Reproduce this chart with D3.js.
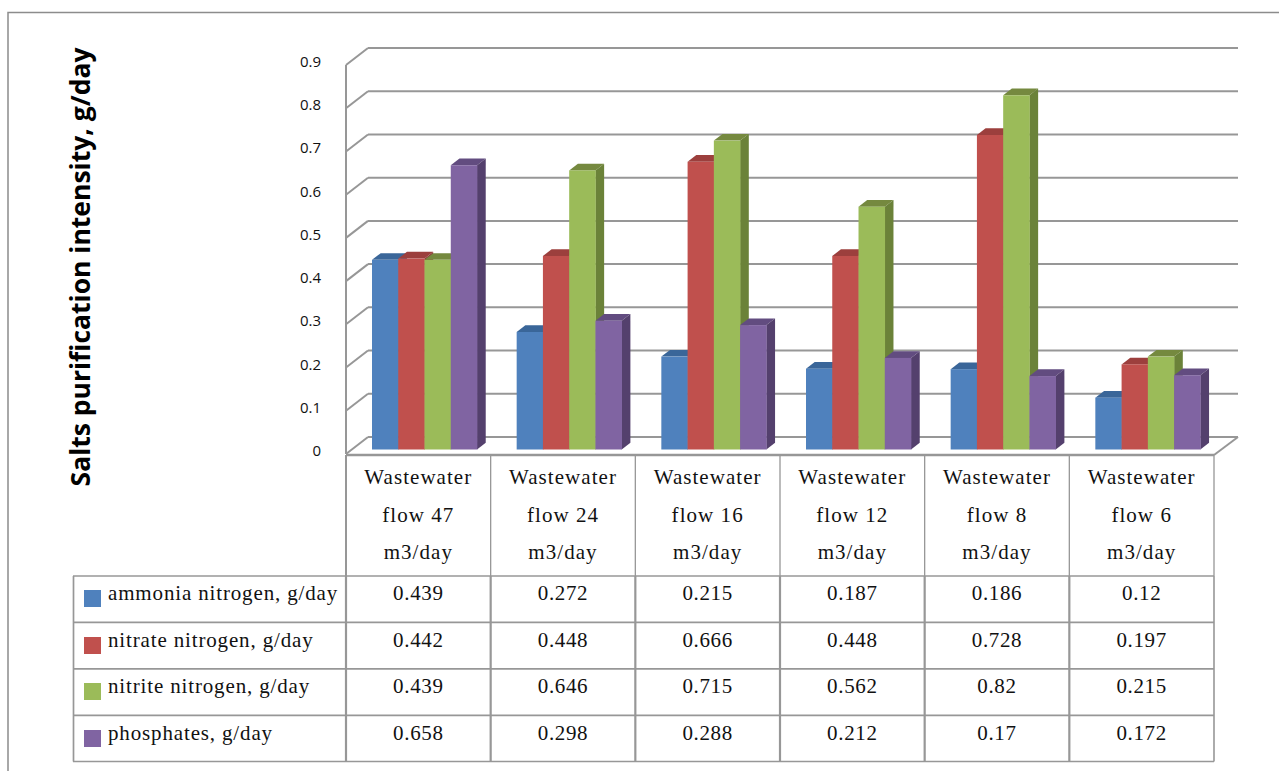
<!DOCTYPE html>
<html><head><meta charset="utf-8">
<script src="https://cdn.jsdelivr.net/npm/d3@7/dist/d3.min.js"></script>
<style>html,body{margin:0;background:#fff;overflow:hidden}svg{display:block}</style>
</head><body><svg id="c" width="1279" height="771"></svg>
<script>
const categories = [["Wastewater","flow 47","m3/day"],["Wastewater","flow 24","m3/day"],["Wastewater","flow 16","m3/day"],["Wastewater","flow 12","m3/day"],["Wastewater","flow 8","m3/day"],["Wastewater","flow 6","m3/day"]];
const seriesNames = ["ammonia nitrogen, g/day","nitrate nitrogen, g/day","nitrite nitrogen, g/day","phosphates, g/day"];
const ammonia = ["0.439","0.272","0.215","0.187","0.186","0.12"];
const nitrate = ["0.442","0.448","0.666","0.448","0.728","0.197"];
const nitrite = ["0.439","0.646","0.715","0.562","0.82","0.215"];
const phosphates = ["0.658","0.298","0.288","0.212","0.17","0.172"];
const allSeries = [ammonia, nitrate, nitrite, phosphates];
const front = ["#4f81bd","#c0504d","#9bbb59","#8064a2"];
const side = ["#3a5f8c","#8e3b39","#6b8239","#54406d"];
const topc = ["#3a6699","#9c3f3d","#75893f","#624c80"];
const ticks = [0,0.1,0.2,0.3,0.4,0.5,0.6,0.7,0.8,0.9];
const svg = d3.select("#c");
const GRID="#979797", SERIF="'Liberation Serif','DejaVu Serif',serif", SANS="'Open Sans','Noto Sans',sans-serif";
const dx=22, dy=-17;
const xCat=d3.scaleBand().domain(d3.range(6)).range([346,1214]);
const yFront=d3.scaleLinear().domain([0,0.9]).range([454,65]);
const yBar=d3.scaleLinear().domain([0,0.9]).range([449.5,60.7]);
const line=(x1,y1,x2,y2,w=2,c=GRID)=>svg.append("line").attr("x1",x1).attr("y1",y1).attr("x2",x2).attr("y2",y2).attr("stroke",c).attr("stroke-width",w);
// frame: top and left edges only, running off the picture
svg.append("path").attr("d","M8,771V12.5H1279").attr("fill","none").attr("stroke","#8c8c8c").attr("stroke-width",1.5);
// walls
ticks.forEach(t=>{const y=yFront(t);
  line(346,y,346+dx,y+dy,2);
  line(346+dx,y+dy,1238,y+dy,2);
});
line(346,65,346,454,2);
line(1214,455,1238,437,2);
// ticks
svg.append("g").selectAll("text").data(ticks).join("text")
 .attr("x",321).attr("text-anchor","end").attr("y",t=>yFront(t)+2)
 .attr("font-family",SANS).attr("font-size",15).attr("fill","#111").text(t=>String(t));
// bars
const bw=xCat.bandwidth()*0.1815, bdx=8.7, bdy=-6.7;
const xOff=26;
categories.forEach((c,i)=>{allSeries.forEach((s,j)=>{
  const v=+s[i], x0=xCat(i)+xOff+j*bw, y0=yBar(v), y1=yBar(0), g=svg.append("g");
  g.append("path").attr("d",`M${x0},${y0}L${x0+bdx},${y0+bdy}H${x0+bw+bdx}L${x0+bw},${y0}Z`).attr("fill",topc[j]);
  g.append("path").attr("d",`M${x0+bw},${y0}L${x0+bw+bdx},${y0+bdy}V${y1+bdy}L${x0+bw},${y1}Z`).attr("fill",side[j]);
  g.append("rect").attr("x",x0).attr("y",y0).attr("width",bw+0.3).attr("height",y1-y0).attr("fill",front[j]);
});});
// table
const rows=[576,622.3,668.8,715.3,761.5];
line(346,455,1214,455,2.5);
d3.range(7).forEach(i=>{const x=346+i*xCat.step();
  line(x,455,x,576,i?1.3:2);
  line(x,576,x,761.5,(i&&i<6)?2.2:(i?1.6:2.2));
});
rows.forEach(y=>line(73,y,1214,y,1.7));
line(73.5,576,73.5,761.5,1.7);
const txt=(x,y,s,anchor,ls)=>svg.append("text").attr("x",x).attr("y",y).attr("text-anchor",anchor)
 .attr("font-family",SERIF).attr("font-size",21).attr("letter-spacing",ls).attr("fill","#111").text(s);
const rowBase=[600,647,693,739.5];
categories.forEach((c,i)=>{const cx=xCat(i)+xCat.step()/2;
  c.forEach((s,k)=>txt(cx,484+k*37.5,s,"middle",1.05));
  allSeries.forEach((ser,j)=>txt(cx,rowBase[j],ser[i],"middle",0.65));
});
seriesNames.forEach((n,j)=>{
  svg.append("rect").attr("x",84).attr("y",[590,637,683,730][j]).attr("width",17).attr("height",17).attr("fill",front[j]);
  txt(108,rowBase[j],n,"start",0.85);
});
// y title
svg.append("text").attr("transform","translate(90,267) rotate(-90)").attr("text-anchor","middle")
 .attr("font-family",SANS).attr("font-weight",700).attr("font-size",26.5).attr("fill","#000").text("Salts purification intensity, g/day");
</script></body></html>
